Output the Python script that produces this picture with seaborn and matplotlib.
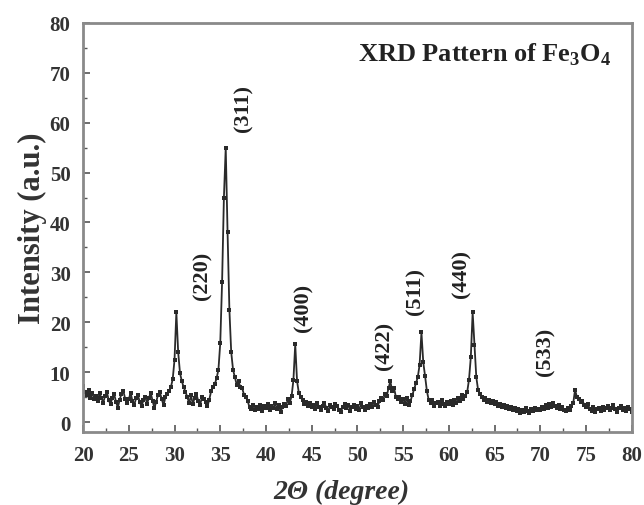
import numpy as np
import pandas as pd
import seaborn as sns
import matplotlib.pyplot as plt
from matplotlib.ticker import MultipleLocator

# scan grid, 0.2 degree step
two_theta = np.round(np.arange(20.0, 80.001, 0.2), 1)

# intensity, 25 points per 5 degrees
intensity = [
    # 20 - 24.8
    7.2, 6.0, 5.5, 6.4, 4.8, 5.9, 4.6, 5.3, 4.2, 5.8, 4.9, 3.9, 5.2, 6.1, 4.4, 3.6, 4.9, 5.6, 4.1, 2.9, 4.5, 5.7, 6.3, 4.7, 3.8,
    # 25 - 29.8
    4.6, 5.9, 4.2, 3.5, 4.8, 5.4, 4.0, 3.2, 4.4, 5.1, 3.7, 4.9, 5.8, 4.3, 2.8, 4.1, 5.5, 6.0, 4.6, 3.4, 5.0, 5.6, 6.2, 7.0, 8.6,
    # 30 - 34.8
    12.5, 22.0, 14.0, 9.8, 8.2, 7.0, 6.1, 5.0, 3.8, 5.4, 3.6, 4.9, 5.6, 4.2, 3.4, 5.1, 4.7, 4.0, 3.2, 4.5, 6.2, 7.0, 7.6, 8.8, 10.5,
    # 35 - 39.8
    15.8, 28.0, 45.0, 55.0, 38.0, 22.5, 14.0, 10.5, 9.0, 7.5, 8.2, 7.0, 6.8, 5.5, 5.0, 4.2, 3.0, 2.6, 3.4, 2.4, 3.1, 2.7, 3.5, 2.2, 3.3,
    # 40 - 44.8
    2.8, 3.6, 2.5, 3.2, 2.9, 3.8, 2.6, 3.4, 2.1, 3.0, 3.7, 3.3, 4.6, 3.9, 5.2, 8.4, 15.6, 8.2, 5.8, 5.0, 4.4, 3.6, 4.1, 3.2, 3.8,
    # 45 - 49.8
    3.1, 3.5, 2.7, 3.9, 3.0, 2.4, 3.3, 3.8, 2.9, 2.2, 3.4, 3.0, 2.6, 3.7, 3.2, 2.5, 2.1, 3.1, 3.6, 2.8, 3.4, 2.3, 3.0, 3.5, 2.7,
    # 50 - 54.8
    3.2, 2.5, 3.8, 3.0, 2.4, 3.3, 2.8, 3.6, 3.1, 4.0, 3.4, 3.0, 4.2, 4.8, 4.4, 5.6, 5.2, 6.8, 8.2, 6.2, 6.9, 5.1, 4.6, 5.0, 4.1,
    # 55 - 59.8
    4.6, 3.7, 4.8, 3.5, 4.2, 5.4, 6.6, 7.8, 9.0, 11.5, 18.0, 12.0, 9.2, 6.2, 4.4, 3.8, 4.4, 3.2, 3.9, 4.1, 3.3, 4.5, 3.6, 3.2, 4.0,
    # 60 - 64.8
    3.6, 4.2, 3.4, 4.5, 3.9, 4.8, 4.3, 5.4, 4.6, 5.2, 6.0, 8.5, 13.0, 22.0, 15.5, 9.0, 6.4, 5.6, 5.0, 4.4, 4.8, 4.1, 4.5, 3.8, 4.2,
    # 65 - 69.8
    3.6, 4.0, 3.3, 3.7, 3.1, 3.5, 2.8, 3.2, 2.6, 3.0, 2.4, 2.9, 2.2, 2.7, 1.8, 2.5, 2.1, 2.8, 2.3, 1.9, 2.6, 2.2, 2.9, 2.4, 2.7,
    # 70 - 74.8
    2.5, 3.1, 2.6, 3.4, 2.9, 3.6, 3.0, 3.8, 3.2, 2.8, 3.5, 2.7, 3.1, 2.4, 2.2, 2.9, 2.5, 3.3, 3.8, 6.5, 5.0, 4.6, 4.0, 4.3, 3.5,
    # 75 - 79.8
    3.0, 3.6, 2.7, 2.3, 3.1, 2.0, 2.6, 2.9, 2.2, 3.0, 2.5, 2.8, 3.2, 2.4, 2.9, 3.4, 2.6, 2.1, 2.8, 3.3, 2.5, 2.9, 2.2, 3.1, 2.6,
    # 80
    2.0,
]

# peak labels (hkl) and where they sit
hkl_labels = ["(220)", "(311)", "(400)", "(422)", "(511)", "(440)", "(533)"]
hkl_x = [33.1, 37.5, 44.1, 53.0, 56.3, 61.4, 70.6]
hkl_y = [29.6, 63.0, 23.0, 15.4, 26.4, 29.8, 14.2]

df = pd.DataFrame({"two_theta": two_theta, "intensity": intensity})

sns.set_style("ticks")
plt.rcParams['font.family'] = ['Liberation Serif', 'DejaVu Serif']
plt.rcParams['mathtext.fontset'] = 'custom'
plt.rcParams['mathtext.rm'] = 'Liberation Serif:bold'
plt.rcParams['mathtext.bf'] = 'Liberation Serif:bold'

fig = plt.figure(figsize=(6.44, 5.06), dpi=100)
ax = fig.add_axes([0.129, 0.144, 0.852, 0.809])

sns.lineplot(data=df, x="two_theta", y="intensity", ax=ax, color="#2a2a2a",
             linewidth=1.3, marker="s", markersize=2.6, markeredgewidth=0)

ax.set_xlim(20, 80)
ax.set_ylim(-2, 80)
ax.xaxis.set_major_locator(MultipleLocator(5))
ax.xaxis.set_minor_locator(MultipleLocator(2.5))
ax.yaxis.set_major_locator(MultipleLocator(10))
ax.yaxis.set_minor_locator(MultipleLocator(5))
ax.tick_params(which="both", direction="in", top=False, right=False, colors="#555555",
               labelcolor="#333333")
ax.tick_params(which="major", length=5, width=1.2, labelsize=15)
ax.tick_params(axis="x", which="major", pad=9)
ax.tick_params(axis="y", which="major", pad=9)
ax.tick_params(which="minor", length=3, width=1.0)
for lbl in ax.get_xticklabels() + ax.get_yticklabels():
    lbl.set_fontweight("bold")

for sp in ax.spines.values():
    sp.set_color("#8a8a8a")
    sp.set_linewidth(2)

ax.set_xlabel("2Θ (degree)", fontsize=20, fontweight="bold", fontstyle="italic",
              color="#333333")
ax.xaxis.set_label_coords(0.47, -0.115)
ax.set_ylabel("Intensity (a.u.)", fontsize=22, fontweight="bold", color="#333333", labelpad=2)

ax.text(0.964, 0.924, r"XRD Pattern of Fe$_3$O$_4$", transform=ax.transAxes,
        ha="right", va="center", fontsize=19, fontweight="bold", color="#222222")

for lab, x, y in zip(hkl_labels, hkl_x, hkl_y):
    ax.text(x, y, lab, rotation=90, ha="center", va="center", fontsize=16,
            fontweight="bold", color="#222222")

fig.savefig("out.png", dpi=100)
